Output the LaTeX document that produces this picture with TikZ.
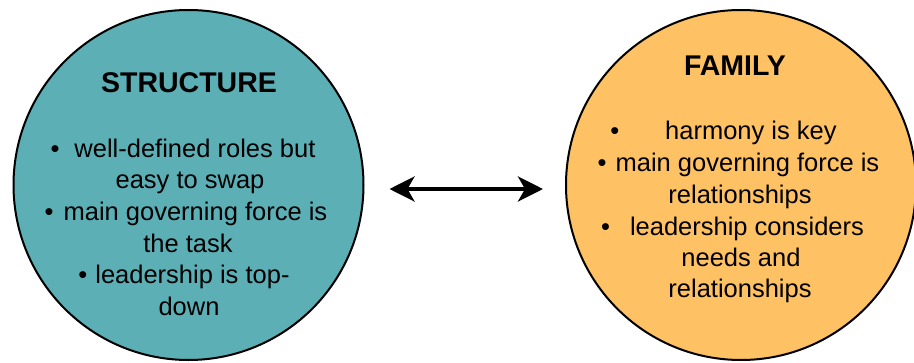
\documentclass[tikz,border=0pt]{standalone}
\usepackage{fontspec}
\setmainfont{Liberation Sans}
\usetikzlibrary{arrows.meta}
\definecolor{tealfill}{HTML}{5BAFB5}
\definecolor{orangefill}{HTML}{FEC164}
\tikzset{
  bubble/.style={circle, draw=black, line width=2pt, minimum size=350pt, inner sep=0pt},
  title/.style={anchor=base, inner sep=0pt, font=\fontsize{28.5}{34}\bfseries\selectfont},
  txt/.style={anchor=base, inner sep=0pt, font=\fontsize{25.5}{32}\selectfont},
  link/.style={line width=4pt, {Stealth[length=25pt,width=25pt,inset=7pt]}-{Stealth[length=25pt,width=25pt,inset=7pt]}, shorten <=25pt, shorten >=22pt}
}
\begin{document}
\begin{tikzpicture}[x=1pt, y=-1pt]
  \useasboundingbox (0,0) rectangle (914,362);
  % the two circles
  \node[bubble, fill=tealfill] (L) at (188.5,185) {};
  \node[bubble, fill=orangefill] (R) at (741,185) {};
  % left circle text
  \node[title] (lt) at (189,92.5) {STRUCTURE};
  \node[txt] (l1) at (183,157) {\textbullet\hspace{15pt}well-defined roles but};
  \node[txt] (l2) at (190,188.5) {easy to swap};
  \node[txt] (l3) at (186,220) {\textbullet\hspace{10pt}main governing force is};
  \node[txt] (l4) at (188,252) {the task};
  \node[txt] (l5) at (184,283.5) {\textbullet\hspace{8pt}leadership is top-};
  \node[txt] (l6) at (189,315) {down};
  % right circle text
  \node[title] (rt) at (735,75) {FAMILY};
  \node[txt] (r1) at (723.5,139) {\textbullet\hspace{46pt}harmony is key};
  \node[txt] (r2) at (738.5,171) {\textbullet\hspace{9pt}main governing force is};
  \node[txt] (r3) at (740,203) {relationships};
  \node[txt] (r4) at (732.5,235) {\textbullet\hspace{20pt}leadership considers};
  \node[txt] (r5) at (741,266) {needs and};
  \node[txt] (r6) at (740,297) {relationships};
  % double-headed connector
  \draw[link] ([yshift=-4pt]L.east) -- ([yshift=-4pt]R.west);
\end{tikzpicture}
\end{document}
